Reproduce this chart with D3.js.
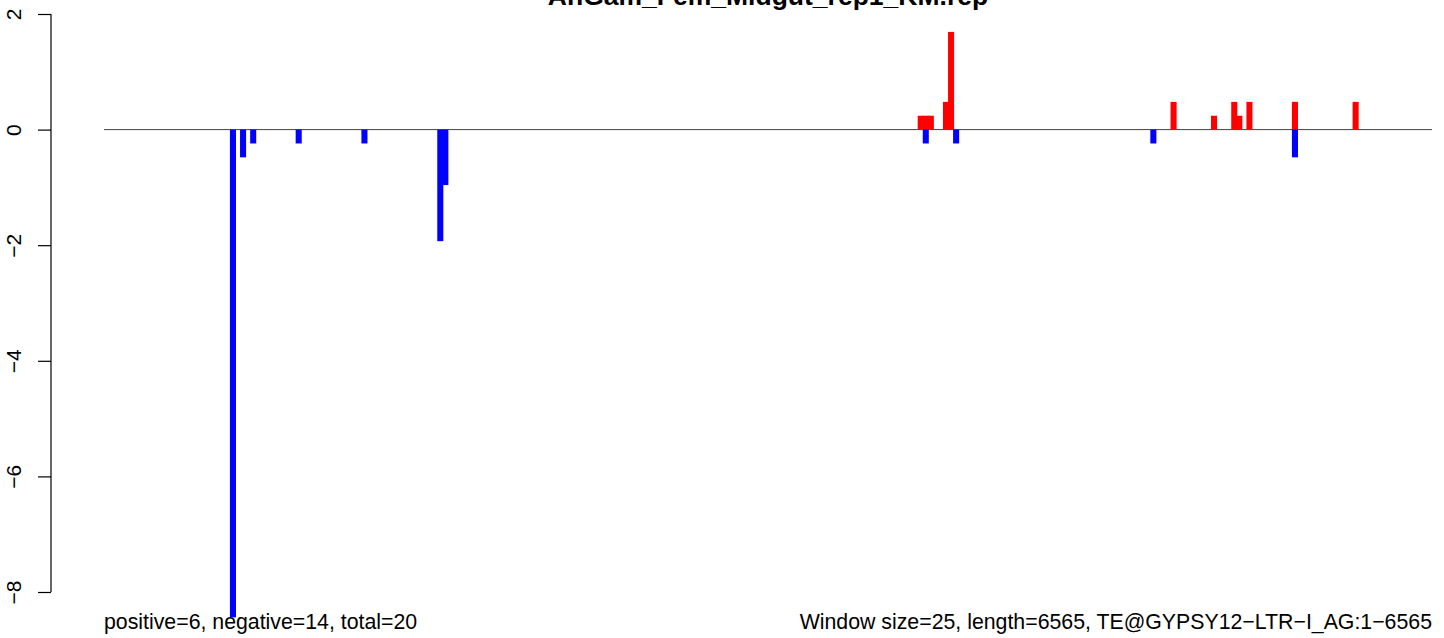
<!DOCTYPE html>
<html>
<head>
<meta charset="utf-8">
<script src="https://cdn.jsdelivr.net/npm/d3@7"></script>
<style>
  html, body { margin: 0; padding: 0; background: #fff; }
  svg { display: block; }
  text { font-family: "Liberation Sans", Arial, Helvetica, sans-serif; fill: #000; }
</style>
</head>
<body>
<svg id="chart" width="1444" height="638"></svg>
<script>
// ---- data (window start positions in nt, normalized counts) ----
const title = "AnGam_Fem_Midgut_rep1_KM.rep";
const seqLength = 6565;
const windowSize = 25;
const negStarts = [625, 675, 725, 950, 1275, 1650, 1675, 4050, 4200, 5175, 5875];
const negValues = [-8.44, -0.48, -0.24, -0.24, -0.24, -1.93, -0.96, -0.24, -0.24, -0.24, -0.48];
const posStarts = [4025, 4050, 4075, 4150, 4175, 5275, 5475, 5575, 5600, 5650, 5875, 6175];
const posValues = [0.24, 0.24, 0.24, 0.48, 1.69, 0.48, 0.24, 0.48, 0.24, 0.48, 0.48, 0.48];
const yTicks = [-8, -6, -4, -2, 0, 2];
const leftNote = "positive=6, negative=14, total=20";
const rightNote = "Window size=25, length=6565, TE@GYPSY12\u2212LTR\u2212I_AG:1\u22126565";

const svg = d3.select("#chart");
const x = d3.scaleLinear().domain([0, seqLength]).range([104, 1432]);
const y = d3.scaleLinear().domain([-8, 2]).range([592, 14]);
const barW = x(windowSize) - x(0) + 1;

// title
svg.append("text")
  .attr("x", (x(0) + x(seqLength)) / 2)
  .attr("y", 5)
  .attr("text-anchor", "middle")
  .style("font-weight", "bold")
  .style("font-size", "26.5px")
  .text(title);

// y axis
const yAxis = d3.axisLeft(y).tickValues(yTicks).tickSize(13)
  .tickFormat(d => String(d).replace("-", "\u2212"));
const gy = svg.append("g").attr("transform", "translate(51,0)").call(yAxis);
gy.select(".domain").attr("stroke", "#000").attr("stroke-width", 1.2)
  .attr("d", `M0,${y(2)}V${y(-8)}`);
gy.selectAll(".tick line").attr("stroke", "#000").attr("stroke-width", 1.2);
gy.selectAll(".tick text")
  .attr("x", null).attr("dy", null)
  .attr("transform", "translate(-30,0) rotate(-90)")
  .attr("text-anchor", "middle")
  .style("font-size", "21px")
  .style("font-family", "'Liberation Sans', Arial, sans-serif")
  .attr("fill", "#000");

// zero line
svg.append("line")
  .attr("x1", x(0)).attr("x2", x(seqLength))
  .attr("y1", y(0)).attr("y2", y(0))
  .attr("stroke", "#444").attr("stroke-width", 1);

// bars
svg.append("g").selectAll("rect")
  .data(posStarts.map((s, i) => ({ s, v: posValues[i] })))
  .join("rect")
  .attr("x", d => x(d.s) - 0.5).attr("width", barW)
  .attr("y", d => y(d.v)).attr("height", d => y(0) - y(d.v))
  .attr("fill", "#ff0000");

svg.append("g").selectAll("rect")
  .data(negStarts.map((s, i) => ({ s, v: negValues[i] })))
  .join("rect")
  .attr("x", d => x(d.s) - 0.5).attr("width", barW)
  .attr("y", y(0)).attr("height", d => y(d.v) - y(0))
  .attr("fill", "#0000ff");

// notes
svg.append("text").attr("x", x(0)).attr("y", 629)
  .style("font-size", "21.3px").text(leftNote);
svg.append("text").attr("x", x(seqLength)).attr("y", 629)
  .attr("text-anchor", "end")
  .style("font-size", "21.3px").text(rightNote);
</script>
</body>
</html>
